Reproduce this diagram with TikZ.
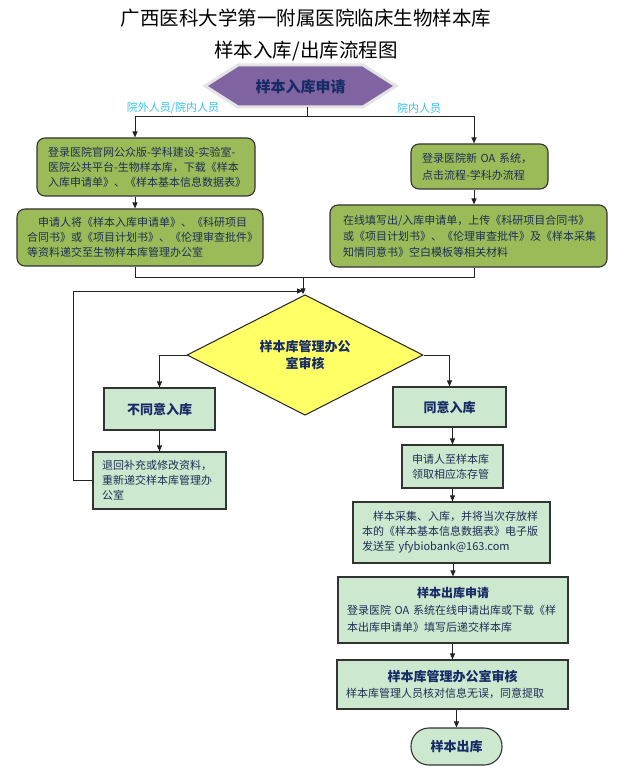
\documentclass[tikz,border=0pt]{standalone}
\usepackage{fontspec}
\setmainfont{Noto Sans CJK SC}
\usetikzlibrary{shapes.geometric,arrows.meta}
\definecolor{olivebox}{HTML}{9BBB59}
\definecolor{lgreen}{HTML}{CCE8CF}
\definecolor{ydia}{HTML}{FFFF66}
\definecolor{purp}{HTML}{8064A2}
\definecolor{halo}{HTML}{E4E4E4}
\definecolor{navy}{HTML}{172B66}
\definecolor{bodytext}{HTML}{1F2D55}
\definecolor{boxline}{HTML}{333333}
\definecolor{linec}{HTML}{222222}
\definecolor{lblue}{HTML}{38C0EE}
\newcommand\bdf{\fontsize{11}{15}\selectfont}
\newcommand\bdfb{\fontsize{11}{17}\selectfont}
\begin{document}
\begin{tikzpicture}[x=1pt,y=-1pt,
  ln/.style={line width=1pt,draw=linec},
  arr/.style={ln,-{Triangle[length=6pt,width=5pt]}},
  gbox/.style={draw=boxline,line width=1.1pt,fill=olivebox,rounded corners=8pt,
     font=\bdf,text=bodytext,align=left,inner ysep=0pt},
  lbox/.style={draw=boxline,line width=1.1pt,fill=lgreen,
     font=\bdf,text=bodytext,align=left,inner ysep=0pt},
  btitle/.style={font=\fontsize{13}{17}\selectfont\bfseries,text=navy},
  lbl/.style={font=\fontsize{11}{13}\selectfont,text=lblue,inner sep=0pt}]
\useasboundingbox (0,0) rectangle (627,775);

% title
\node[font=\fontsize{19.5}{22}\selectfont] (t1) at (306,18) {广西医科大学第一附属医院临床生物样本库};
\node[font=\fontsize{19.5}{22}\selectfont] (t2) at (306,51) {样本入库/出库流程图};

% hexagon
\draw[fill=purp,draw=halo,line width=3pt] (205,86) -- (238,65) -- (363,65) -- (396,86) -- (363,107) -- (238,107) -- cycle;
\node[font=\fontsize{15}{17}\selectfont\bfseries,text=navy] (hex) at (300.5,86.5) {样本入库申请};
\coordinate (hexb) at (307,107);
\coordinate (split) at (307,117);

\node[lbl] (lab1) at (173,108) {院外人员/院内人员};
\node[lbl] (lab2) at (419,108) {院内人员};

% left column
\node[gbox,text width=196pt,inner xsep=11pt,minimum height=58pt] (b1) at (146,167)
 {登录医院官网公众版-学科建设-实验室-\\医院公共平台-生物样本库，下载《样本\\入库申请单》、《样本基本信息数据表》};
\node[gbox,text width=226pt,inner xsep=10pt,minimum height=57pt] (b2) at (140,237.5)
 {\hspace*{1em}申请人将《样本入库申请单》、《科研项目\\合同书》或《项目计划书》、《伦理审查批件》\\等资料递交至生物样本库管理办公室};

% right column
\node[gbox,text width=115pt,inner xsep=11pt,minimum height=45pt,font=\fontsize{11}{17}\selectfont] (b3) at (479.5,166.5)
 {登录医院新 OA 系统，\\点击流程-学科办流程};
\node[gbox,text width=251pt,inner xsep=13pt,minimum height=62pt,font=\fontsize{11}{16}\selectfont] (b4) at (468.5,236)
 {在线填写出/入库申请单，上传《科研项目合同书》\\或《项目计划书》、《伦理审查批件》及《样本采集\\知情同意书》空白模板等相关材料};

% split arrows
\draw[ln] (hexb) -- (split);
\coordinate (lx) at (135,117);
\coordinate (rx) at (474,117);
\draw[arr] (split) -- (lx) -- (b1.north -| lx);
\draw[arr] (split) -- (rx) -- (b3.north -| rx);
\draw[arr] (b1.south -| lx) -- (b2.north -| lx);
\draw[arr] (b3.south -| rx) -- (b4.north -| rx);

% merge
\coordinate (mL) at (135,277);
\coordinate (mR) at (474,277);
\coordinate (mC) at (303,277);
\draw[ln] (b2.south -| mL) -- (mL) -- (mR) -- (b4.south -| mR);

% diamond
\node[diamond,fill=ydia,draw=linec,line width=1pt,minimum width=236pt,minimum height=101pt,inner sep=0pt,
  align=center,font=\fontsize{13}{17}\selectfont\bfseries,text=navy] (dia) at (305,355) {样本库管理办公\\室审核};
\draw[arr] (mC) -- (dia.north -| mC);

% branches
\node[lbox,minimum width=111pt,minimum height=42pt,align=center,btitle] (nd) at (159.5,409) {不同意入库};
\node[lbox,minimum width=113pt,minimum height=40pt,align=center,btitle] (ag) at (449.5,407) {同意入库};
\draw[arr] (dia.west) -| (nd.north);
\draw[arr] (dia.east) -| (ag.north);

\node[lbox,text width=115pt,inner xsep=9pt,minimum height=57pt] (ret) at (159.5,480.5)
 {退回补充或修改资料，\\重新递交样本库管理办\\公室};
\draw[arr] (nd.south) -- (ret.north);

% loop back
\coordinate (lp) at (73,291);
\coordinate (join) at (303,291);
\draw[arr] (ret.west) -| (lp) -- (join);

% right flow
\node[lbox,text width=81pt,inner xsep=10pt,minimum height=43pt] (pick) at (452.5,466.5)
 {申请人至样本库\\领取相应冻存管};
\draw[arr] (pick.north |- ag.south) -- (pick.north);

\node[lbox,text width=179pt,inner xsep=9pt,minimum height=61pt] (send) at (451.5,532.5)
 {\hspace*{1em}样本采集、入库，并将当次存放样\\本的《样本基本信息数据表》电子版\\发送至 yfybiobank@163.com};
\draw[arr] (pick.south) -- (pick.south |- send.north);

\node[lbox,text width=212pt,inner xsep=9pt,minimum height=66pt,font=\bdfb] (out) at (453,610)
 {\makebox[212pt]{\fontsize{12}{17}\selectfont\bfseries\color{navy}样本出库申请}\\登录医院 OA 系统在线申请出库或下载《样\\本出库申请单》填写后递交样本库};
\draw[arr] (send.south -| out.north) -- (out.north);

\node[lbox,text width=213pt,inner xsep=9pt,minimum height=49pt,font=\fontsize{11}{16}\selectfont] (rev) at (452.5,684.5)
 {\makebox[213pt]{\fontsize{13}{16}\selectfont\bfseries\color{navy}样本库管理办公室审核}\\样本库管理人员核对信息无误，同意提取};
\draw[arr] (out.south -| rev.north) -- (rev.north);

\node[lbox,minimum width=91pt,minimum height=37pt,rounded corners=18pt,align=center,btitle] (fin) at (456.5,746.5) {样本出库};
\draw[arr] (rev.south -| fin.north) -- (fin.north);
\end{tikzpicture}
\end{document}
